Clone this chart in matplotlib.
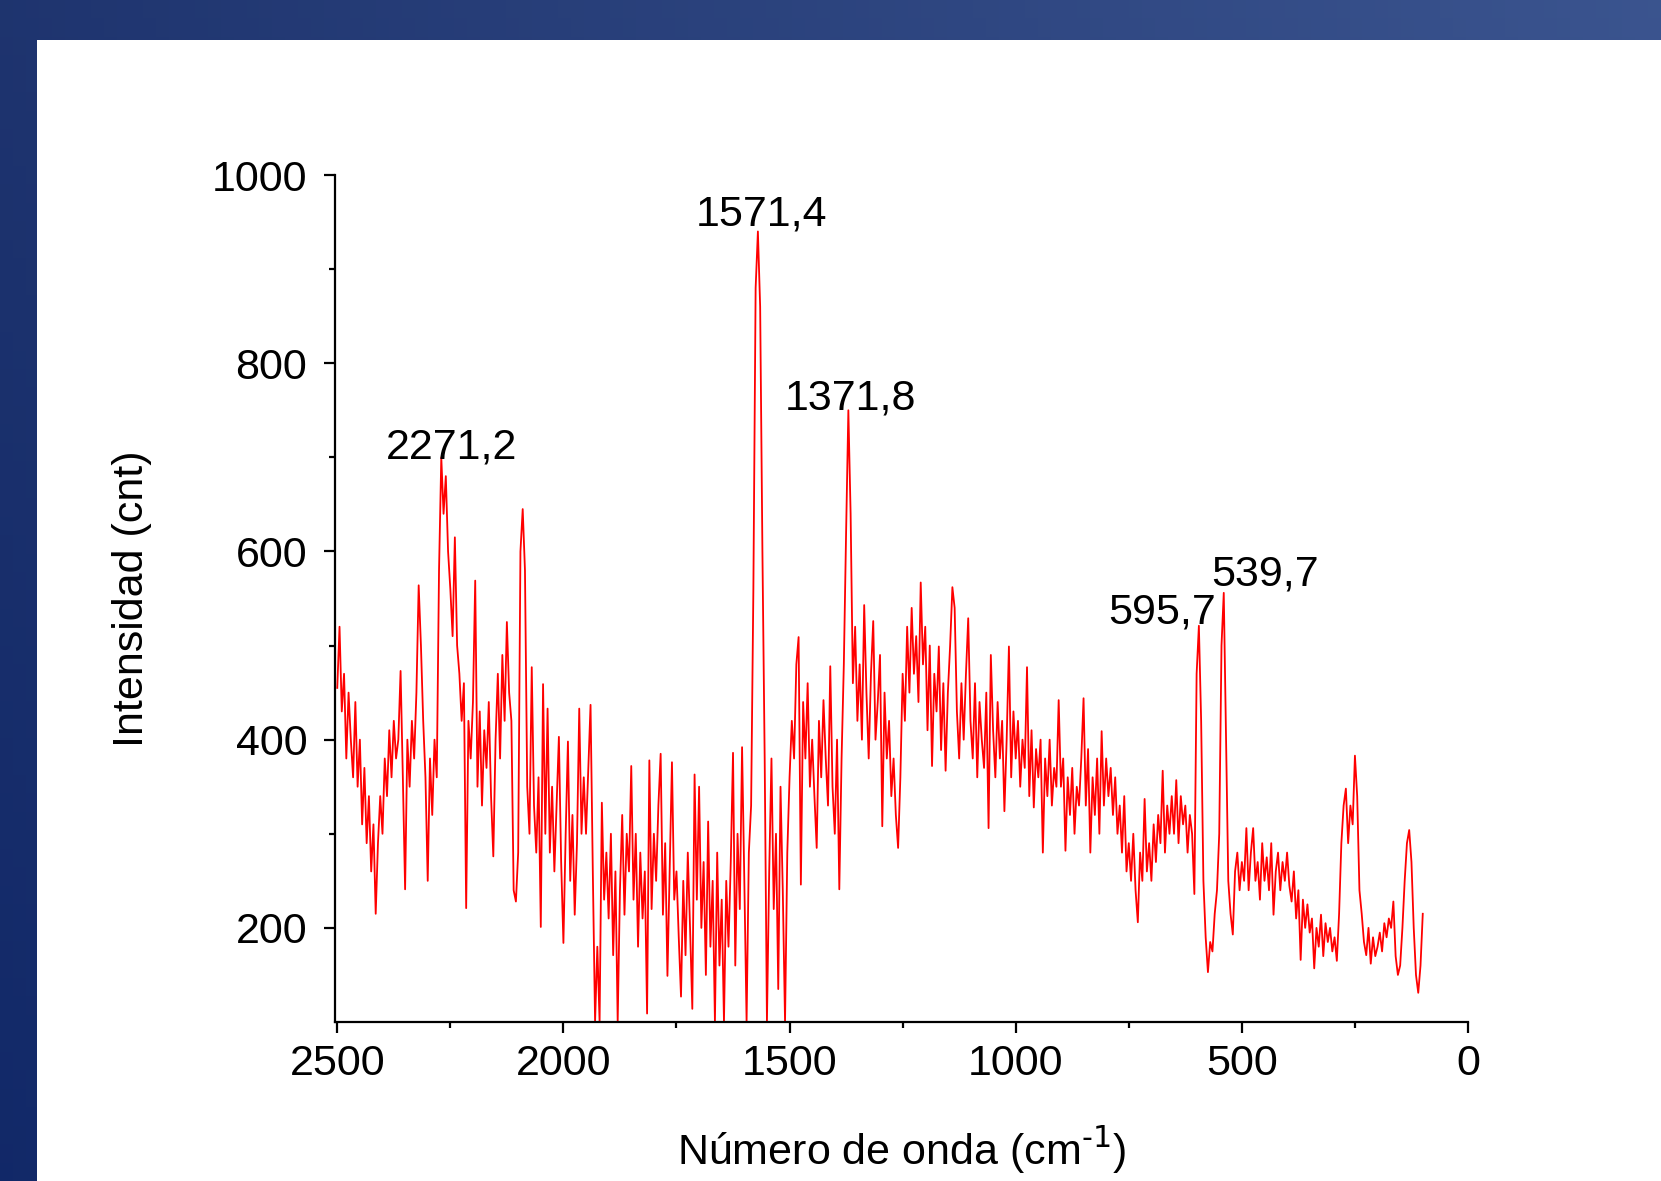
import numpy as np
import matplotlib
matplotlib.use('Agg')
import matplotlib.pyplot as plt
from matplotlib.patches import Rectangle
from matplotlib.ticker import FixedLocator

plt.rcParams['font.family'] = ['Liberation Sans', 'DejaVu Sans']
plt.rcParams['mathtext.default'] = 'regular'

# ---------------- data ----------------
wavenumber_start = 2500   # cm-1, first sample
wavenumber_step = 5       # cm-1 between samples (descending)

intensity = [
    455, 520, 430, 470, 380, 450, 400, 360, 440, 350,   # 2500
    400, 310, 370, 290, 340, 260, 310, 215, 290, 340,   # 2450
    300, 380, 340, 410, 360, 420, 380, 400, 473, 360,   # 2400
    241, 400, 350, 420, 380, 450, 564, 500, 420, 360,   # 2350
    250, 380, 320, 400, 360, 580, 700, 640, 680, 600,   # 2300
    560, 510, 615, 500, 470, 420, 460, 221, 420, 380,   # 2250
    440, 569, 350, 430, 330, 410, 370, 440, 340, 276,   # 2200
    400, 470, 380, 490, 420, 525, 450, 420, 240, 228,   # 2150
    280, 600, 645, 580, 350, 300, 477, 330, 280, 360,   # 2100
    201, 459, 300, 433, 280, 350, 260, 330, 403, 270,   # 2050
    184, 300, 398, 250, 320, 214, 290, 433, 300, 360,   # 2000
    300, 370, 437, 260, 100, 180, 100, 333, 230, 280,   # 1950
    210, 300, 171, 260, 100, 240, 320, 214, 300, 260,   # 1900
    372, 230, 300, 180, 280, 210, 260, 109, 378, 220,   # 1850
    300, 250, 330, 385, 214, 290, 149, 260, 376, 230,   # 1800
    260, 190, 127, 250, 171, 280, 200, 114, 363, 230,   # 1750
    350, 200, 270, 150, 313, 180, 250, 100, 280, 160,   # 1700
    230, 100, 250, 180, 270, 386, 160, 300, 220, 392,   # 1650
    250, 100, 280, 330, 560, 880, 940, 860, 600, 380,   # 1600
    100, 260, 380, 220, 300, 135, 350, 240, 100, 280,   # 1550
    360, 420, 380, 480, 509, 246, 440, 380, 460, 350,   # 1500
    400, 340, 285, 420, 360, 442, 380, 330, 478, 350,   # 1450
    300, 400, 241, 380, 480, 620, 750, 640, 460, 520,   # 1400
    420, 480, 400, 543, 450, 380, 470, 526, 400, 440,   # 1350
    490, 308, 450, 380, 420, 340, 380, 320, 285, 360,   # 1300
    470, 420, 520, 450, 540, 470, 510, 440, 567, 480,   # 1250
    520, 410, 500, 372, 470, 430, 499, 389, 460, 367,   # 1200
    450, 500, 562, 540, 430, 380, 460, 400, 470, 529,   # 1150
    420, 380, 460, 360, 440, 400, 370, 450, 306, 490,   # 1100
    410, 360, 440, 380, 420, 324, 400, 499, 360, 430,   # 1050
    380, 420, 350, 400, 370, 477, 340, 410, 328, 390,   # 1000
    360, 400, 280, 380, 340, 400, 330, 370, 350, 442,   # 950
    350, 380, 282, 360, 320, 370, 300, 350, 330, 380,   # 900
    444, 330, 390, 280, 360, 320, 380, 300, 409, 330,   # 850
    380, 340, 370, 320, 360, 300, 330, 280, 340, 260,   # 800
    290, 250, 300, 240, 206, 280, 250, 337, 260, 290,   # 750
    250, 310, 270, 320, 290, 367, 280, 330, 300, 340,   # 700
    300, 357, 290, 340, 310, 330, 280, 320, 300, 236,   # 650
    470, 521, 420, 250, 190, 153, 185, 175, 215, 240,   # 600
    300, 500, 556, 400, 250, 215, 193, 260, 280, 240,   # 550
    270, 250, 306, 240, 280, 306, 250, 270, 230, 290,   # 500
    250, 275, 240, 290, 214, 260, 280, 240, 270, 250,   # 450
    280, 245, 228, 260, 210, 240, 166, 230, 200, 225,   # 400
    195, 210, 157, 200, 180, 214, 170, 205, 185, 200,   # 350
    175, 190, 165, 215, 290, 330, 348, 290, 330, 310,   # 300
    383, 340, 240, 215, 185, 171, 200, 162, 190, 170,   # 250
    180, 195, 175, 205, 190, 210, 200, 228, 170, 150,   # 200
    160, 200, 250, 290, 304, 270, 200, 150, 131, 160,   # 150
    215,                                                # 100
]

peak_labels = ['2271,2', '1571,4', '1371,8', '595,7', '539,7']
peak_label_x = [2247, 1561, 1365, 677, 449]
peak_label_y = [699, 946, 751, 523, 564]

x_major_ticks = [2500, 2000, 1500, 1000, 500, 0]
x_minor_ticks = [2250, 1750, 1250, 750, 250]
y_major_ticks = [200, 400, 600, 800, 1000]
y_minor_ticks = [300, 500, 700, 900]

# ---------------- figure ----------------
W, H = 1661, 1181
fig = plt.figure(figsize=(W / 100, H / 100), dpi=100)

# slide-like background: blue gradient frame with white panel
bg = fig.add_axes([0, 0, 1, 1], zorder=-10)
bg.set_axis_off()
nx, ny = 128, 64
u = np.linspace(0, 1, nx)[None, :, None]
v = np.linspace(0, 1, ny)[:, None, None]
c_tl = np.array([0.120, 0.205, 0.435])
c_tr = np.array([0.230, 0.330, 0.560])
c_bl = np.array([0.070, 0.160, 0.410])
c_br = np.array([0.180, 0.280, 0.520])
grad = ((1 - u) * (1 - v) * c_tl + u * (1 - v) * c_tr
        + (1 - u) * v * c_bl + u * v * c_br)
bg.imshow(grad, extent=[0, 1, 0, 1], origin='upper', aspect='auto')
bg.add_patch(Rectangle((37 / W, 0), 1 - 37 / W, 1 - 40 / H,
                       transform=bg.transAxes, facecolor='white',
                       edgecolor='none'))
bg.set_xlim(0, 1)
bg.set_ylim(0, 1)

ax = fig.add_axes([335 / W, 1 - 1022 / H, 1133 / W, 847 / H])
ax.patch.set_alpha(0)

x = wavenumber_start - wavenumber_step * np.arange(len(intensity))
ax.plot(x, intensity, color='#ff0000', lw=1.3)

ax.set_xlim(2505, 0)
ax.set_ylim(100, 1000)

for s in ['top', 'right']:
    ax.spines[s].set_visible(False)
for s in ['left', 'bottom']:
    ax.spines[s].set_linewidth(1.6)

ax.xaxis.set_major_locator(FixedLocator(x_major_ticks))
ax.xaxis.set_minor_locator(FixedLocator(x_minor_ticks))
ax.yaxis.set_major_locator(FixedLocator(y_major_ticks))
ax.yaxis.set_minor_locator(FixedLocator(y_minor_ticks))
ax.set_xticklabels([str(t) for t in x_major_ticks])
ax.set_yticklabels([str(t) for t in y_major_ticks])

ax.tick_params(which='major', direction='out', length=8, width=1.6,
               labelsize=31, color='black')
ax.tick_params(which='minor', direction='out', length=4.5, width=1.6)
ax.tick_params(axis='x', which='major', pad=8)
ax.tick_params(axis='y', which='major', pad=12)

ax.set_xlabel(r'Número de onda (cm$^{\text{-1}}$)', fontsize=31)
ax.set_ylabel('Intensidad (cnt)', fontsize=31)
ax.xaxis.label.set_va('center')
ax.yaxis.label.set_va('center')
ax.xaxis.set_label_coords(0.5, -0.152)
ax.yaxis.set_label_coords(-0.179, 0.5)

for lab, lx, ly in zip(peak_labels, peak_label_x, peak_label_y):
    ax.text(lx, ly, lab, ha='center', va='baseline', fontsize=31,
            color='black')

fig.savefig('out.png', dpi=100)
